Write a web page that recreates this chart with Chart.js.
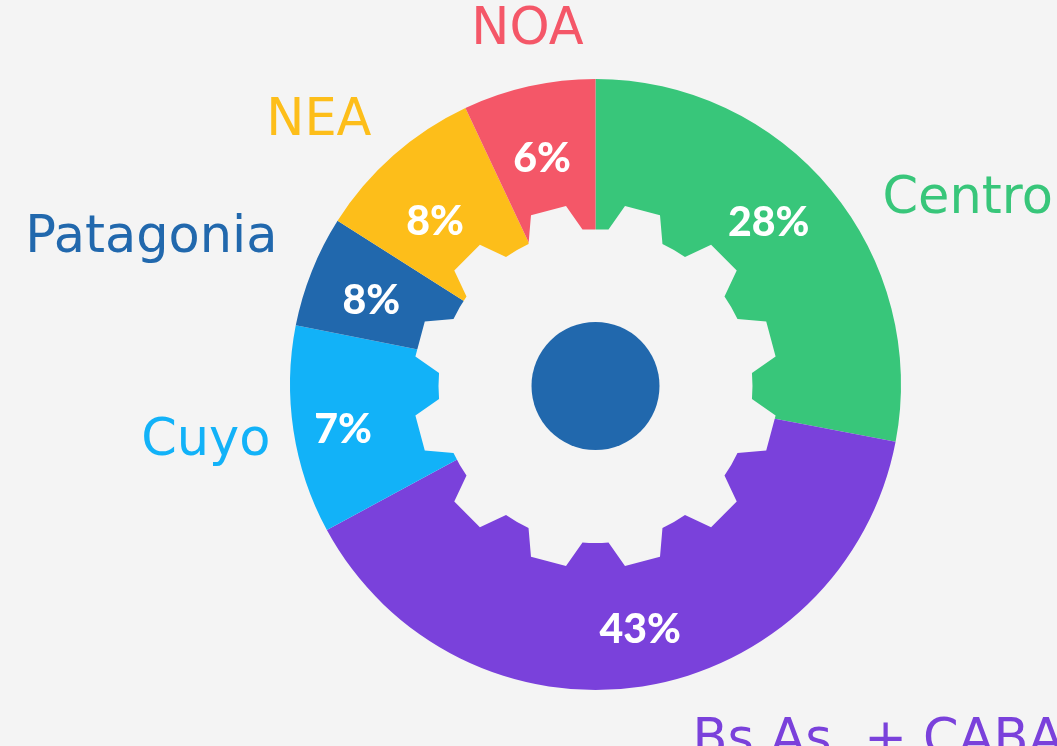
<!DOCTYPE html>
<html>
<head>
<meta charset="utf-8">
<script src="https://cdn.jsdelivr.net/npm/chart.js@4.4.1/dist/chart.umd.min.js"></script>
<style>
  html, body { margin: 0; padding: 0; background: #f4f4f4; }
  #wrap { width: 1057px; height: 746px; }
</style>
</head>
<body>
<div id="wrap"><canvas id="regionChart" width="1057" height="746"></canvas></div>
<script>
// Regions (clockwise from the top)
const regions = ["Centro", "Bs As. + CABA", "Cuyo", "Patagonia", "NEA", "NOA"];
// Slice sizes as drawn in the picture (share of the ring, %)
const sliceSizes = [28.0, 39.1, 11.0, 5.9, 9.0, 7.0];
// Percent text printed on each slice
const pctLabels = ["28%", "43%", "7%", "8%", "8%", "6%"];
const regionColors = ["#38c67a", "#7a41db", "#12b2f8", "#2168ad", "#fdbe1a", "#f45768"];

const BG = "#f4f4f4";

// gear + hub drawn over the hole of the doughnut
const gearPlugin = {
    id: "gear",
    afterDatasetsDraw(chart) {
        const arc = chart.getDatasetMeta(0).data[0];
        const ctx = chart.ctx;
        const cx = arc.x, cy = arc.y + 1.5;
        const rRoot = 157, rTip = 182.5;
        const teeth = 12;
        const d = Math.PI / 180;
        ctx.save();
        ctx.beginPath();
        for (let k = 0; k < teeth; k++) {
            const c = (15 + k * 30 - 90) * d;
            const a0 = c - 10.25 * d, a1 = c - 5.7 * d, a2 = c + 5.7 * d, a3 = c + 10.25 * d;
            if (k === 0) ctx.moveTo(cx + rRoot * Math.cos(a0), cy + rRoot * Math.sin(a0));
            else ctx.arc(cx, cy, rRoot, c - 19.75 * d, a0, false);
            ctx.lineTo(cx + rTip * Math.cos(a1), cy + rTip * Math.sin(a1));
            ctx.lineTo(cx + rTip * Math.cos(a2), cy + rTip * Math.sin(a2));
            ctx.lineTo(cx + rRoot * Math.cos(a3), cy + rRoot * Math.sin(a3));
        }
        ctx.closePath();
        ctx.fillStyle = BG;
        ctx.fill();

        ctx.beginPath();
        ctx.arc(cx, cy, 64, 0, Math.PI * 2);
        ctx.fillStyle = "#2168ad";
        ctx.fill();
        ctx.restore();
    }
};

// percentages on the ring and region names around it
const labelPlugin = {
    id: "regionLabels",
    afterDraw(chart, args, opts) {
        const meta = chart.getDatasetMeta(0);
        const ctx = chart.ctx;
        const d = Math.PI / 180;
        ctx.save();
        meta.data.forEach((arc, i) => {
            // nudge from the slice middle, [degrees, radius]
            const q = opts.pct[i];
            const mid = (arc.startAngle + arc.endAngle) / 2 + q[0] * d;
            ctx.font = "900 41px Lato";
            ctx.fillStyle = "#ffffff";
            ctx.textAlign = "center";
            ctx.textBaseline = "middle";
            ctx.fillText(pctLabels[i], arc.x + q[1] * Math.cos(mid), arc.y + q[1] * Math.sin(mid) + 2);

            const p = opts.places[i];
            ctx.font = "51px 'DejaVu Sans'";
            ctx.fillStyle = regionColors[i];
            ctx.textAlign = p[2];
            ctx.textBaseline = "alphabetic";
            ctx.fillText(regions[i], arc.x + p[0], arc.y + p[1]);
        });
        ctx.restore();
    }
};

new Chart(document.getElementById("regionChart"), {
    type: "doughnut",
    data: {
        labels: regions,
        datasets: [{
            data: sliceSizes,
            backgroundColor: regionColors,
            borderWidth: 0,
            hoverOffset: 0,
            offset: 0
        }]
    },
    options: {
        responsive: false,
        animation: false,
        cutout: 140,
        layout: { padding: { left: 290, top: 79, right: 156, bottom: 56 } },
        plugins: {
            legend: { display: false },
            tooltip: { enabled: false },
            regionLabels: {
                pct: [[-3.7, 238], [-1.6, 247], [-1, 256], [-0.9, 240], [-2.8, 230], [-0.6, 234]],
                // offset from the centre of the ring: [dx, baseline dy, align]
                places: [
                    [287, -172, "left"],
                    [97, 370, "left"],
                    [-325, 70, "right"],
                    [-318, -133, "right"],
                    [-224, -250, "right"],
                    [-68, -341, "center"]
                ]
            }
        }
    },
    plugins: [gearPlugin, labelPlugin]
});
</script>
</body>
</html>
